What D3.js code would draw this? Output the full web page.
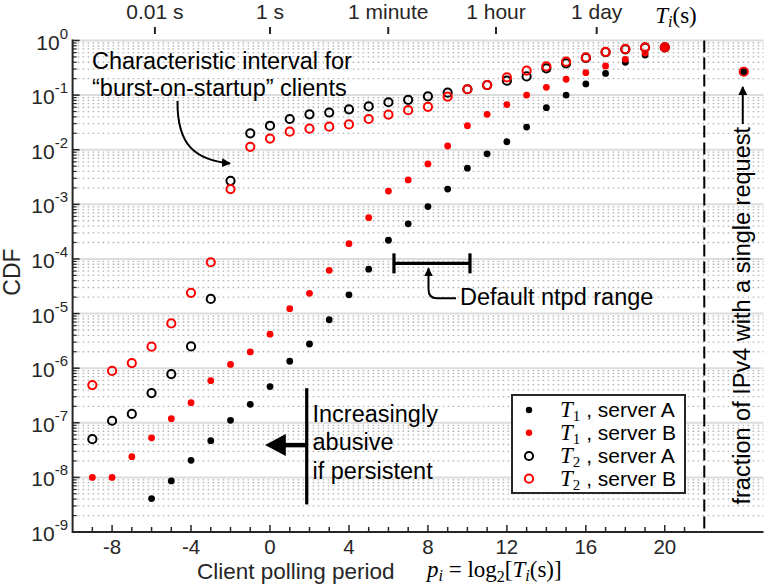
<!DOCTYPE html>
<html><head><meta charset="utf-8">
<script src="https://cdn.jsdelivr.net/npm/d3@7"></script>
<style>
html,body{margin:0;padding:0;background:#fff;}
svg{display:block;}
text{font-family:"Liberation Sans",Arial,Helvetica,sans-serif;}
.math{font-family:"Liberation Serif","Times New Roman",serif;}
</style></head>
<body>
<svg id="chart" width="768" height="585"></svg>
<script>
// ---------- data ----------
const periods = [-9,-8,-7,-6,-5,-4,-3,-2,-1,0,1,2,3,4,5,6,7,8,9,10,11,12,13,14,15,16,17,18,19,20];
const t1ServerA = [null,null,null,4.1e-9,8.6e-9,2.05e-8,4.7e-8,1.11e-7,2.18e-7,4.6e-7,1.34e-6,2.77e-6,7.7e-6,2.2e-5,6.5e-5,2.2e-4,4.4e-4,9.1e-4,1.9e-3,4.6e-3,8.4e-3,1.4e-2,2.6e-2,0.059,0.10,0.16,0.25,0.40,0.54,0.75];
const t1ServerB = [1.0e-8,1.0e-8,2.4e-8,5.3e-8,1.19e-7,2.33e-7,5.9e-7,1.17e-6,1.98e-6,4.2e-6,1.23e-5,2.35e-5,6.2e-5,1.9e-4,5.7e-4,1.75e-3,2.8e-3,5.5e-3,1.17e-2,2.75e-2,4.45e-2,6.7e-2,0.10,0.139,0.195,0.257,0.341,0.453,0.59,0.75];
const t2ServerA = [5.0e-8,1.09e-7,1.45e-7,3.5e-7,7.8e-7,2.5e-6,1.85e-5,2.7e-3,2.0e-2,2.75e-2,3.65e-2,4.45e-2,4.8e-2,5.5e-2,6.2e-2,7.4e-2,8.2e-2,9.5e-2,0.111,0.128,0.153,0.184,0.22,0.31,0.382,0.48,0.61,0.69,0.745,0.75];
const t2ServerB = [4.9e-7,8.9e-7,1.24e-6,2.47e-6,6.6e-6,2.4e-5,8.7e-5,1.9e-3,1.13e-2,1.6e-2,2.14e-2,2.43e-2,2.64e-2,2.9e-2,3.65e-2,4.4e-2,5.3e-2,6.1e-2,9.4e-2,0.128,0.153,0.212,0.28,0.335,0.41,0.49,0.62,0.70,0.75,0.75];
const singleRequestPos = 24;
const singleRequestFraction = 0.268;
const bottomTicks = [-8,-4,0,4,8,12,16,20];
const topTickPos = [-5.83,0,5.99,11.45,16.55];
const topTickLabels = ["0.01 s","1 s","1 minute","1 hour","1 day"];
const yDecades = [-9,-8,-7,-6,-5,-4,-3,-2,-1,0];
const ntpdRange = [6.28,10.13];
const ntpdLevel = 8.3e-5;
const separatorPos = 22;
const legendLabels = [["1","server A"],["1","server B"],["2","server A"],["2","server B"]];

// ---------- setup ----------
const svg = d3.select("#chart");
const x = d3.scaleLinear().domain([-10,25]).range([72.6,763.5]);
const y = d3.scaleLog().domain([1e-9,1]).range([532,40.5]);
const RED = "#ff0000", BLACK = "#000000";

// ---------- grid ----------
const grid = svg.append("g");
const minorVals = [];
yDecades.slice(0,-1).forEach(e => { for (let k=2;k<=9;k++) minorVals.push(k*Math.pow(10,e)); });
grid.selectAll(".minor").data(minorVals).enter().append("line")
  .attr("x1", x(-10)).attr("x2", x(25))
  .attr("y1", d=>y(d)).attr("y2", d=>y(d))
  .attr("stroke","#b3b3b3").attr("stroke-width",1.3).attr("stroke-dasharray","1.6,3.4");
grid.selectAll(".major").data(yDecades.slice(1)).enter().append("line")
  .attr("x1", x(-10)).attr("x2", x(25))
  .attr("y1", d=>y(Math.pow(10,d))).attr("y2", d=>y(Math.pow(10,d)))
  .attr("stroke","#dcdcdc").attr("stroke-width",2);

// separator
svg.append("line").attr("x1",x(separatorPos)).attr("x2",x(separatorPos))
  .attr("y1",y(1)).attr("y2",y(1e-9))
  .attr("stroke","#000").attr("stroke-width",2).attr("stroke-dasharray","12,5");

// ---------- axes ----------
const ax = svg.append("g").attr("stroke","#262626");
ax.append("line").attr("x1",x(-10)).attr("x2",x(-10)).attr("y1",y(1)-1).attr("y2",y(1e-9)+1).attr("stroke-width",2);
ax.append("line").attr("x1",x(-10)).attr("x2",x(25)).attr("y1",y(1e-9)).attr("y2",y(1e-9)).attr("stroke-width",2);
ax.selectAll(".ymaj").data(yDecades).enter().append("line")
  .attr("x1",x(-10)).attr("x2",x(-10)+7)
  .attr("y1",d=>y(Math.pow(10,d))).attr("y2",d=>y(Math.pow(10,d))).attr("stroke-width",1.5);
ax.selectAll(".ymin").data(minorVals).enter().append("line")
  .attr("x1",x(-10)).attr("x2",x(-10)+4)
  .attr("y1",d=>y(d)).attr("y2",d=>y(d)).attr("stroke-width",1.2);
const xMinor = d3.range(-9,22);
ax.selectAll(".xt").data(xMinor).enter().append("line")
  .attr("x1",d=>x(d)).attr("x2",d=>x(d))
  .attr("y1",y(1e-9)).attr("y2",d=> y(1e-9) - (bottomTicks.includes(d)?7:5)).attr("stroke-width",1.5);
ax.selectAll(".tt").data(topTickPos).enter().append("line")
  .attr("x1",d=>x(d)).attr("x2",d=>x(d)).attr("y1",27).attr("y2",34).attr("stroke-width",2);

// tick labels
svg.selectAll(".xl").data(bottomTicks).enter().append("text")
  .attr("x",d=>x(d)).attr("y",554).attr("text-anchor","middle")
  .attr("font-size",20.5).attr("fill","#262626").text(d=>String(d));
svg.selectAll(".tl").data(topTickPos).enter().append("text")
  .attr("x",d=>x(d)).attr("y",19).attr("text-anchor","middle")
  .attr("font-size",21).attr("fill","#262626").text((d,i)=>topTickLabels[i]);
const yl = svg.selectAll(".yl").data(yDecades).enter().append("text")
  .attr("x",68).attr("y",d=>y(Math.pow(10,d))+9).attr("text-anchor","end")
  .attr("fill","#262626").attr("font-size",21);
yl.append("tspan").text("10");
yl.append("tspan").attr("dy",-11).attr("font-size",15).text(d=>String(d));

// T_i(s)
const ti = svg.append("text").attr("class","math").attr("x",676).attr("y",23)
  .attr("text-anchor","middle").attr("font-size",23).attr("fill","#000");
ti.append("tspan").attr("font-style","italic").text("T");
ti.append("tspan").attr("font-style","italic").attr("font-size",16).attr("dy",4).text("i");
ti.append("tspan").attr("dy",-4).text("(s)");

// axis labels
svg.append("text").attr("x",197).attr("y",579).attr("font-size",22.5).attr("fill","#262626").text("Client polling period");
const xm = svg.append("text").attr("class","math").attr("x",427).attr("y",577).attr("font-size",23).attr("fill","#000");
xm.append("tspan").attr("font-style","italic").text("p");
xm.append("tspan").attr("font-style","italic").attr("font-size",16).attr("dy",4).text("i");
xm.append("tspan").attr("dy",-4).text(" = log");
xm.append("tspan").attr("font-size",16).attr("dy",5).text("2");
xm.append("tspan").attr("dy",-5).text("[");
xm.append("tspan").attr("font-style","italic").text("T");
xm.append("tspan").attr("font-style","italic").attr("font-size",16).attr("dy",4).text("i");
xm.append("tspan").attr("dy",-4).text("(s)]");
svg.append("text").attr("transform","translate(20,272) rotate(-90)").attr("text-anchor","middle")
  .attr("font-size",23).attr("fill","#262626").text("CDF");

// ---------- data marks ----------
function pts(vals){ return periods.map((p,i)=>({p, v: vals[i]})).filter(d=>d.v!=null); }
const marks = svg.append("g");
marks.selectAll(".t1a").data(pts(t1ServerA)).enter().append("circle")
  .attr("cx",d=>x(d.p)).attr("cy",d=>y(d.v)).attr("r",3.4).attr("fill",BLACK);
marks.selectAll(".t1b").data(pts(t1ServerB)).enter().append("circle")
  .attr("cx",d=>x(d.p)).attr("cy",d=>y(d.v)).attr("r",3.4).attr("fill",RED);
marks.selectAll(".t2a").data(pts(t2ServerA)).enter().append("circle")
  .attr("cx",d=>x(d.p)).attr("cy",d=>y(d.v)).attr("r",4.1).attr("fill","none").attr("stroke",BLACK).attr("stroke-width",2);
marks.selectAll(".t2b").data(pts(t2ServerB)).enter().append("circle")
  .attr("cx",d=>x(d.p)).attr("cy",d=>y(d.v)).attr("r",4.1).attr("fill","none").attr("stroke",RED).attr("stroke-width",2);
marks.append("circle").attr("cx",x(singleRequestPos)).attr("cy",y(singleRequestFraction)).attr("r",4.1)
  .attr("fill","none").attr("stroke",RED).attr("stroke-width",2);
marks.append("circle").attr("cx",x(singleRequestPos)).attr("cy",y(singleRequestFraction)).attr("r",3.2).attr("fill",BLACK);

// ---------- annotations ----------
const defs = svg.append("defs");
defs.append("marker").attr("id","ah").attr("viewBox","0 0 10 10").attr("refX",9).attr("refY",5)
  .attr("markerWidth",9).attr("markerHeight",9).attr("markerUnits","userSpaceOnUse").attr("orient","auto")
  .append("path").attr("d","M0,0 L10,5 L0,10 z").attr("fill","#000");

const ann1 = svg.append("text").attr("x",92).attr("font-size",23.5).attr("fill","#000");
ann1.append("tspan").attr("x",92).attr("y",69).text("Characteristic interval for");
ann1.append("tspan").attr("x",92).attr("y",96).text("\u201Cburst-on-startup\u201D clients");
svg.append("path").attr("d","M177.5,101 C177,145 195,160 230,163.5")
  .attr("fill","none").attr("stroke","#000").attr("stroke-width",2).attr("marker-end","url(#ah)");

const ny = y(ntpdLevel);
const ntpd = svg.append("g").attr("stroke","#000").attr("stroke-width",3.2);
ntpd.append("line").attr("x1",x(ntpdRange[0])).attr("x2",x(ntpdRange[1])).attr("y1",ny).attr("y2",ny);
ntpd.append("line").attr("x1",x(ntpdRange[0])).attr("x2",x(ntpdRange[0])).attr("y1",ny-10).attr("y2",ny+10);
ntpd.append("line").attr("x1",x(ntpdRange[1])).attr("x2",x(ntpdRange[1])).attr("y1",ny-10).attr("y2",ny+10);
svg.append("path").attr("d",`M456,${ny+35} L437,${ny+35} Q428.5,${ny+35} 428.5,${ny+26} L428.5,${ny+5}`)
  .attr("fill","none").attr("stroke","#000").attr("stroke-width",2).attr("marker-end","url(#ah)");
svg.append("text").attr("x",460).attr("y",ny+42).attr("font-size",23.5).attr("fill","#000").text("Default ntpd range");

const barX = x(1.86);
svg.append("line").attr("x1",barX).attr("x2",barX).attr("y1",y(4.3e-7)).attr("y2",y(3.2e-9))
  .attr("stroke","#000").attr("stroke-width",3.2);
const ay = y(3.9e-8);
svg.append("line").attr("x1",barX).attr("x2",x(0.7)).attr("y1",ay).attr("y2",ay).attr("stroke","#000").attr("stroke-width",4.5);
svg.append("path").attr("d",`M${x(-0.25)},${ay} L${x(0.8)},${ay-11} L${x(0.8)},${ay+11} Z`).attr("fill","#000");
const ann3 = svg.append("text").attr("font-size",23.5).attr("fill","#000");
ann3.append("tspan").attr("x",312.5).attr("y",421.5).text("Increasingly");
ann3.append("tspan").attr("x",312.5).attr("y",450).text("abusive");
ann3.append("tspan").attr("x",312.5).attr("y",478.5).text("if persistent");

const sx = x(singleRequestPos);
svg.append("text").attr("transform",`translate(${sx+6},127) rotate(-90)`).attr("text-anchor","end")
  .attr("font-size",23.5).attr("fill","#000").text("fraction of IPv4 with a single request");
svg.append("line").attr("x1",sx-1).attr("x2",sx-1).attr("y1",124).attr("y2",87)
  .attr("stroke","#000").attr("stroke-width",2).attr("marker-end","url(#ah)");

// ---------- legend ----------
const lg = svg.append("g");
lg.append("rect").attr("x",512).attr("y",395).attr("width",173).attr("height",98)
  .attr("fill","#fff").attr("stroke","#262626").attr("stroke-width",2);
const rows = [410,432.7,456,478.7];
const legStyles = [
  {fill:BLACK, stroke:"none", r:3.2},
  {fill:RED, stroke:"none", r:3.2},
  {fill:"none", stroke:BLACK, r:4.1},
  {fill:"none", stroke:RED, r:4.1}];
legendLabels.forEach((lab,i)=>{
  const s = legStyles[i];
  lg.append("circle").attr("cx",529).attr("cy",rows[i]).attr("r",s.r)
    .attr("fill",s.fill).attr("stroke",s.stroke).attr("stroke-width",2);
  const t = lg.append("text").attr("x",560).attr("y",rows[i]+7).attr("fill","#000");
  t.append("tspan").attr("font-family","Liberation Serif, serif").attr("font-style","italic").attr("font-size",23).text("T");
  t.append("tspan").attr("font-family","Liberation Serif, serif").attr("font-size",15).attr("dy",4).text(lab[0]);
  t.append("tspan").attr("dy",-4).attr("font-size",21).text(" , " + lab[1]);
});
</script>
</body></html>
